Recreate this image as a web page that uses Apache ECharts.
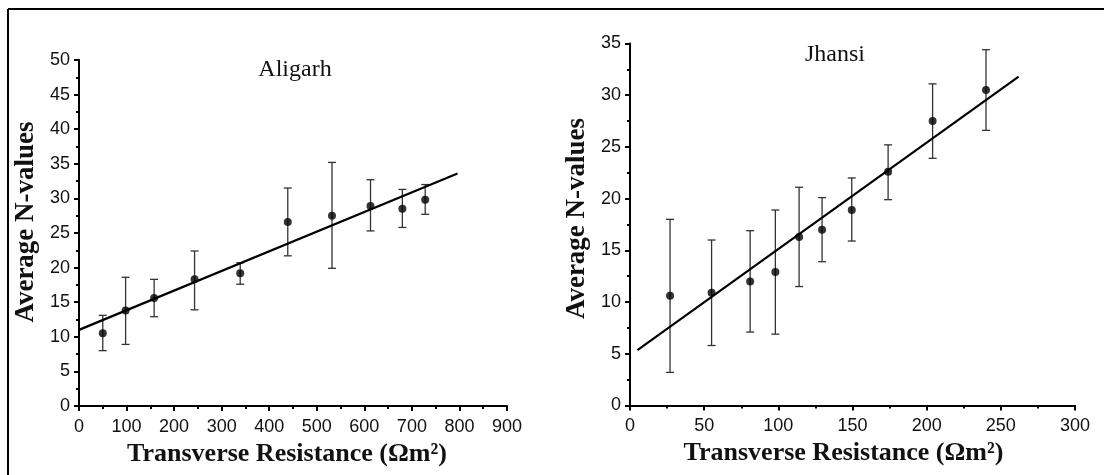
<!DOCTYPE html>
<html>
<head>
<meta charset="utf-8">
<script src="https://cdn.jsdelivr.net/npm/echarts@6/dist/echarts.min.js"></script>
<style>
html,body{margin:0;padding:0;background:#fff;}
#chart{width:1104px;height:475px;}
</style>
</head>
<body>
<div id="chart"></div>
<script>
// Aligarh panel
const aligarhX = [50, 98, 158, 243, 339, 439, 532, 613, 680, 728];
const aligarhY = [10.5, 13.8, 15.6, 18.3, 19.2, 26.6, 27.5, 28.9, 28.5, 29.8];
const aligarhLow = [8.0, 8.9, 12.9, 13.9, 17.6, 21.7, 19.9, 25.3, 25.8, 27.7];
const aligarhHigh = [13.1, 18.6, 18.3, 22.4, 20.7, 31.5, 35.2, 32.7, 31.3, 32.0];
const aligarhFitX = [0, 796];
const aligarhFitY = [11.0, 33.6];

// Jhansi panel
const jhansiX = [27, 55, 81, 98, 114, 129.5, 149.5, 174, 204, 240];
const jhansiY = [10.6, 10.9, 12.0, 12.9, 16.3, 17.0, 18.9, 22.6, 27.5, 30.5];
const jhansiLow = [3.2, 5.8, 7.1, 6.9, 11.5, 13.9, 15.9, 19.9, 23.9, 26.6];
const jhansiHigh = [18.0, 16.0, 16.9, 18.9, 21.1, 20.1, 22.0, 25.2, 31.1, 34.4];
const jhansiFitX = [5, 262];
const jhansiFitY = [5.35, 31.8];

const xName = 'Transverse Resistance (Ωm²)';
const yName = 'Average N-values';
const titles = ['Aligarh', 'Jhansi'];

function zip(a, b) { return a.map((v, i) => [v, b[i]]); }
function zip3(a, b, c) { return a.map((v, i) => [v, b[i], c[i]]); }

const labelFont = { color: '#111', fontFamily: 'Liberation Sans, Arial, sans-serif', fontSize: 18 };
const serif = 'Liberation Serif, Times New Roman, serif';

function xAxisDef(idx, max, interval, padRight) {
  return {
    type: 'value', gridIndex: idx, min: 0, max: max, interval: interval,
    name: xName, nameLocation: 'middle', nameGap: 25,
    nameTextStyle: { color: '#111', fontFamily: serif, fontSize: 26, fontWeight: 'bold', padding: [0, padRight, 0, 0] },
    axisLine: { show: true, onZero: false, lineStyle: { color: '#000', width: 2 } },
    axisTick: { show: true, inside: false, length: 5, lineStyle: { color: '#000', width: 2 } },
    minorTick: { show: true, splitNumber: 2, length: 3, lineStyle: { color: '#000', width: 2 } },
    axisLabel: Object.assign({ margin: 12 }, labelFont),
    splitLine: { show: false }
  };
}
function yAxisDef(idx, max, interval, padLeft) {
  return {
    type: 'value', gridIndex: idx, min: 0, max: max, interval: interval,
    name: yName, nameLocation: 'middle', nameGap: 39,
    nameTextStyle: { color: '#111', fontFamily: serif, fontSize: 27, fontWeight: 'bold', padding: [0, 0, 0, padLeft] },
    axisLine: { show: true, onZero: false, lineStyle: { color: '#000', width: 2 } },
    axisTick: { show: true, inside: false, length: 5, lineStyle: { color: '#000', width: 2 } },
    minorTick: { show: true, splitNumber: 2, length: 3, lineStyle: { color: '#000', width: 2 } },
    axisLabel: Object.assign({ margin: 9 }, labelFont),
    splitLine: { show: false }
  };
}

function errorRender(params, api) {
  const x = api.value(0);
  const lo = api.coord([x, api.value(1)]);
  const hi = api.coord([x, api.value(2)]);
  const hw = 4;
  const style = { stroke: '#333', lineWidth: 1.3 };
  return {
    type: 'group',
    children: [
      { type: 'line', shape: { x1: lo[0], y1: lo[1], x2: hi[0], y2: hi[1] }, style: style },
      { type: 'line', shape: { x1: lo[0] - hw, y1: lo[1], x2: lo[0] + hw, y2: lo[1] }, style: style },
      { type: 'line', shape: { x1: hi[0] - hw, y1: hi[1], x2: hi[0] + hw, y2: hi[1] }, style: style }
    ]
  };
}

const chart = echarts.init(document.getElementById('chart'), null, { renderer: 'canvas' });
chart.setOption({
  animation: false,
  backgroundColor: '#fff',
  title: [
    { text: titles[0], left: 295, top: 58, textAlign: 'center', padding: 0,
      textStyle: { fontFamily: serif, fontWeight: 'normal', fontSize: 24, color: '#111' } },
    { text: titles[1], left: 835, top: 43, textAlign: 'center', padding: 0,
      textStyle: { fontFamily: serif, fontWeight: 'normal', fontSize: 24, color: '#111' } }
  ],
  graphic: [
    { type: 'line', shape: { x1: 8, y1: 9, x2: 1104, y2: 9 }, style: { stroke: '#000', lineWidth: 2 } },
    { type: 'line', shape: { x1: 8, y1: 9, x2: 8, y2: 475 }, style: { stroke: '#000', lineWidth: 2 } }
  ],
  grid: [
    { left: 79, right: 597, top: 60, bottom: 69 },
    { left: 630, right: 29, top: 43.5, bottom: 69.5 }
  ],
  xAxis: [xAxisDef(0, 900, 100, 12), xAxisDef(1, 300, 50, 18)],
  yAxis: [yAxisDef(0, 50, 5, 22), yAxisDef(1, 35, 5, 12)],
  series: [
    { type: 'custom', xAxisIndex: 0, yAxisIndex: 0, renderItem: errorRender,
      data: zip3(aligarhX, aligarhLow, aligarhHigh), z: 2 },
    { type: 'line', xAxisIndex: 0, yAxisIndex: 0, data: zip(aligarhFitX, aligarhFitY),
      showSymbol: false, lineStyle: { color: '#000', width: 2.2 }, z: 3 },
    { type: 'scatter', xAxisIndex: 0, yAxisIndex: 0, data: zip(aligarhX, aligarhY),
      symbol: 'circle', symbolSize: 8, itemStyle: { color: '#000' }, z: 4 },
    { type: 'custom', xAxisIndex: 1, yAxisIndex: 1, renderItem: errorRender,
      data: zip3(jhansiX, jhansiLow, jhansiHigh), z: 2 },
    { type: 'line', xAxisIndex: 1, yAxisIndex: 1, data: zip(jhansiFitX, jhansiFitY),
      showSymbol: false, lineStyle: { color: '#000', width: 2.2 }, z: 3 },
    { type: 'scatter', xAxisIndex: 1, yAxisIndex: 1, data: zip(jhansiX, jhansiY),
      symbol: 'circle', symbolSize: 8, itemStyle: { color: '#000' }, z: 4 }
  ]
});
</script>
</body>
</html>
